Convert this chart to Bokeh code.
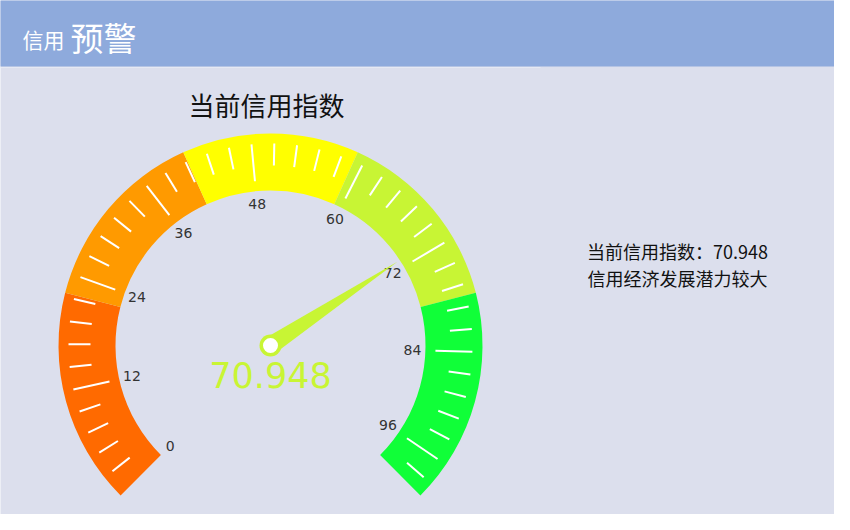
import math
from bokeh.core.properties import value
from bokeh.embed import file_html
from bokeh.models import Range1d
from bokeh.plotting import figure
from bokeh.resources import INLINE

# gauge data
gauge_min = 0
gauge_max = 100
band_stops = [0, 22, 41, 59, 78, 100]
band_colors = ["#ff6a00", "#ff9a00", "#ffff00", "#c8f534", "#10ff38"]
tick_labels = [0, 12, 24, 36, 48, 60, 72, 84, 96]
score = 70.948
info_lines = ["当前信用指数：70.948", "信用经济发展潜力较大"]

W, H = 834, 514
FONT = value("Noto Sans CJK SC")
cx, cy = 270, 530 - 345
R_OUT, R_IN = 212, 155


def ang(v):
    return math.radians(225 - 270 * (v - gauge_min) / (gauge_max - gauge_min))


def sy(py):
    return 530 - py


p = figure(width=W, height=H, output_backend="svg", toolbar_location=None,
           x_range=Range1d(0, 834), y_range=Range1d(16, 530),
           background_fill_color="#dcdfed", border_fill_color="#dcdfed",
           min_border=0)
p.axis.visible = False
p.grid.visible = False
p.outline_line_color = None

# header band
p.quad(left=-10, right=850, top=sy(-10), bottom=sy(66), fill_color="#8eaadc", line_color=None)
p.segment(x0=0, y0=sy(67), x1=540, y1=sy(67), line_color="#e6e9f3", line_width=1)
p.text(x=[22], y=[sy(38)], text=["信用"], text_font=FONT, text_font_size="21px",
       text_color="white", text_baseline="middle")
p.text(x=[70], y=[sy(36)], text=["预警"], text_font=FONT, text_font_size="33px",
       text_color="white", text_baseline="middle")

# title
p.text(x=[266], y=[sy(104)], text=["当前信用指数"], text_font=FONT, text_font_size="26px",
       text_color="#111111", text_align="center", text_baseline="middle")

# bands
for i, c in enumerate(band_colors):
    p.annular_wedge(x=cx, y=cy, inner_radius=R_IN, outer_radius=R_OUT,
                    start_angle=ang(band_stops[i + 1]), end_angle=ang(band_stops[i]),
                    fill_color=c, line_color=None)

# ticks: major every 12, minor every 2.4
x0, y0, x1, y1 = [], [], [], []
n_minor = int(round((gauge_max - gauge_min) / 2.4))
for k in range(1, n_minor + 1):
    v = gauge_min + k * 2.4
    if v >= gauge_max:
        break
    a = ang(v)
    major = k % 5 == 0
    r0, r1 = 202, (165 if major else 180)
    x0.append(cx + r0 * math.cos(a)); y0.append(cy + r0 * math.sin(a))
    x1.append(cx + r1 * math.cos(a)); y1.append(cy + r1 * math.sin(a))
p.segment(x0=x0, y0=y0, x1=x1, y1=y1, line_color="white", line_width=2)

# tick labels
lx = [cx + 142 * math.cos(ang(v)) for v in tick_labels]
ly = [cy + 142 * math.sin(ang(v)) for v in tick_labels]
p.text(x=lx, y=ly, text=[str(v) for v in tick_labels], text_font=value("DejaVu Sans"),
       text_font_size="14px", text_color="#333333", text_align="center",
       text_baseline="middle")

# needle
a = ang(score)
tip = (cx + 152 * math.cos(a), cy + 152 * math.sin(a))
perp = a + math.pi / 2
bw = 9
p.patch(x=[cx + bw * math.cos(perp), tip[0], cx - bw * math.cos(perp)],
        y=[cy + bw * math.sin(perp), tip[1], cy - bw * math.sin(perp)],
        fill_color="#c8f534", line_color=None)
p.scatter(x=[cx], y=[cy], size=22, fill_color="#c8f534", line_color=None)
p.scatter(x=[cx], y=[cy], size=15, fill_color="white", line_color=None)

p.text(x=[cx], y=[sy(374)], text=[f"{score:g}"], text_font=value("DejaVu Sans"),
       text_font_size="35px", text_color="#c8f534", text_align="center",
       text_baseline="middle")

# right info
p.text(x=[677, 677], y=[sy(250), sy(277)], text=info_lines, text_font=FONT,
       text_font_size="18px", text_color="#111111", text_align="center",
       text_baseline="middle")

open("out.html", "w").write(file_html(p, INLINE))
